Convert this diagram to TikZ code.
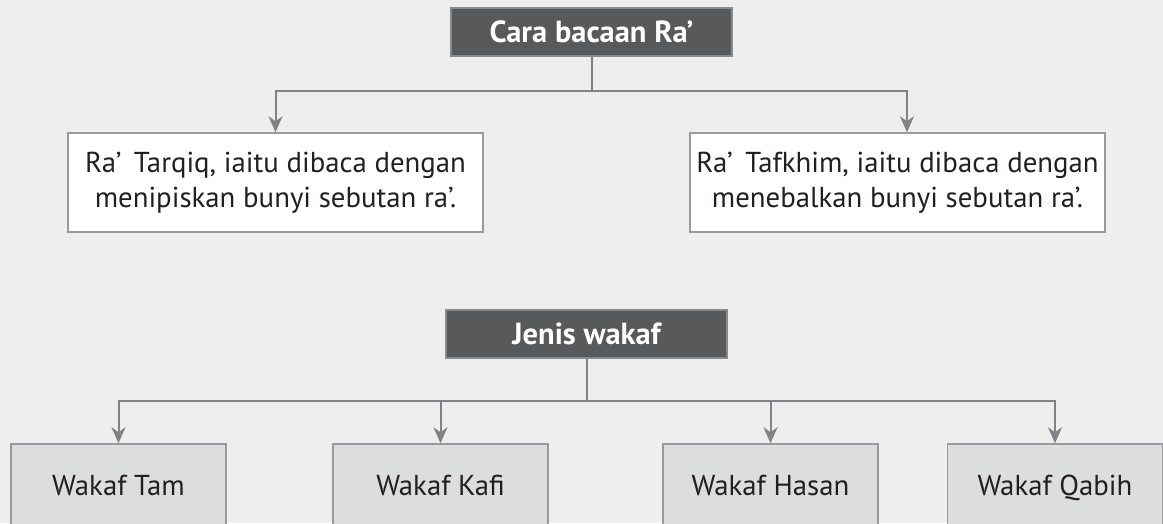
\documentclass[tikz,border=0pt]{standalone}
\usepackage{fontspec}
\setmainfont{PT Sans}
\usetikzlibrary{arrows.meta}
\definecolor{bg}{HTML}{EEEEEE}
\definecolor{darkfill}{HTML}{58595B}
\definecolor{darkline}{HTML}{8A8A8C}
\definecolor{conn}{HTML}{808285}
\definecolor{boxline}{HTML}{9A9A9C}
\definecolor{lightfill}{HTML}{DCDDDE}
\definecolor{txt}{HTML}{231F20}
\tikzset{
  headbox/.style={draw=darkline, line width=1.5pt, fill=darkfill, text=white,
    font=\fontsize{30.5}{34}\selectfont\bfseries, minimum width=281pt, minimum height=48pt,
    inner sep=0pt, text height=21pt, text depth=0pt},
  descbox/.style={draw=boxline, line width=1.5pt, fill=white, text=txt,
    font=\fontsize{28.8}{35}\selectfont, minimum width=415pt, minimum height=99pt,
    inner sep=0pt, align=center},
  kindbox/.style={draw=boxline, line width=1.5pt, fill=lightfill, text=txt,
    font=\fontsize{28.8}{32}\selectfont, minimum width=215pt, minimum height=82pt,
    inner sep=0pt, text height=20pt, text depth=0pt},
  conline/.style={draw=conn, line width=2pt},
  conarrow/.style={conline, -{Stealth[length=16pt, width=14pt, inset=5pt]}},
}
\begin{document}
\begin{tikzpicture}[x=1pt, y=-1pt]
\fill[bg] (0,0) rectangle (1163,523);
\clip (0,0) rectangle (1163,523);
% top section
\node[headbox] (t) at (591.5,32) {Cara bacaan Ra’};
\node[descbox] (a) at (275.5,182.5) {Ra’\,\ Tarqiq, iaitu dibaca dengan\\menipiskan bunyi sebutan ra’.};
\node[descbox] (b) at (897.5,182.5) {Ra’\,\ Tafkhim, iaitu dibaca dengan\\menebalkan bunyi sebutan ra’.};
\coordinate (tj) at (591.5,91);
\draw[conline] (t.south) -- (tj);
\draw[conarrow] (tj) -| (a.north);
\draw[conarrow] (tj) -| ([xshift=9.5pt]b.north);
% bottom section
\node[headbox] (j) at (586.5,334) {Jenis wakaf};
\node[kindbox] (k1) at (118.5,485) {Wakaf Tam};
\node[kindbox] (k2) at (440.5,485) {Wakaf Kafi};
\node[kindbox] (k3) at (770.5,485) {Wakaf Hasan};
\node[kindbox] (k4) at (1055,485) {Wakaf Qabih};
\coordinate (jj) at (586.5,401);
\draw[conline] (j.south) -- (jj);
\draw[conarrow] (jj) -| (k1.north);
\draw[conarrow] (jj) -| (k4.north);
\draw[conarrow] (k2.north |- jj) -- (k2.north);
\draw[conarrow] (k3.north |- jj) -- (k3.north);
\end{tikzpicture}
\end{document}
